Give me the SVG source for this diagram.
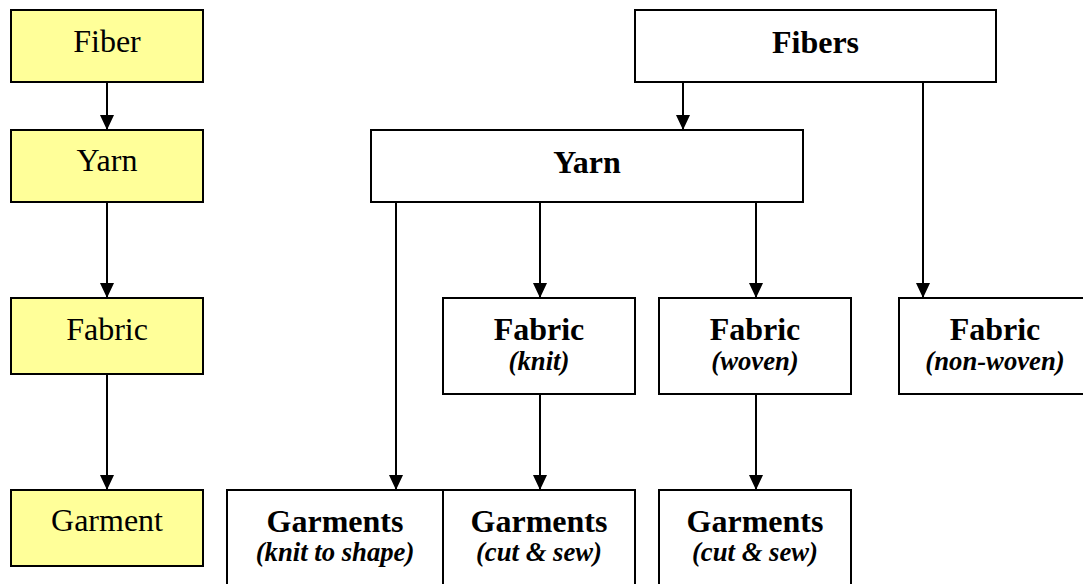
<svg xmlns="http://www.w3.org/2000/svg" width="1083" height="584" viewBox="0 0 1083 584">
<style>
  .box { fill: #ffffff; stroke: #000000; stroke-width: 2; }
  .yel { fill: #ffff99; stroke: #000000; stroke-width: 2; }
  .conn { stroke: #000000; stroke-width: 2; fill: none; }
</style>
<defs>
  <marker id="arrow" markerUnits="userSpaceOnUse" markerWidth="14" markerHeight="15" viewBox="0 0 14 15" refX="7" refY="15" orient="0">
    <path d="M0,0 L14,0 L7,15 z" fill="#000"/>
  </marker>
</defs>
<rect width="1083" height="584" fill="#ffffff"/>

<g id="connectors">
  <line class="conn" x1="107" y1="82" x2="107" y2="130" marker-end="url(#arrow)"/>
  <line class="conn" x1="107" y1="202" x2="107" y2="298" marker-end="url(#arrow)"/>
  <line class="conn" x1="107" y1="370" x2="107" y2="490" marker-end="url(#arrow)"/>
  <line class="conn" x1="683" y1="82" x2="683" y2="130" marker-end="url(#arrow)"/>
  <line class="conn" x1="923" y1="82" x2="923" y2="298" marker-end="url(#arrow)"/>
  <line class="conn" x1="396" y1="202" x2="396" y2="490" marker-end="url(#arrow)"/>
  <line class="conn" x1="540" y1="202" x2="540" y2="298" marker-end="url(#arrow)"/>
  <line class="conn" x1="756" y1="202" x2="756" y2="298" marker-end="url(#arrow)"/>
  <line class="conn" x1="540" y1="394" x2="540" y2="490" marker-end="url(#arrow)"/>
  <line class="conn" x1="756" y1="394" x2="756" y2="490" marker-end="url(#arrow)"/>
</g>

<g font-family="Liberation Serif" text-anchor="middle" fill="#000000">
<g id="left-fiber">
  <rect class="yel" x="11" y="10" width="192" height="72"/>
  <text x="107" y="52" font-size="32">Fiber</text>
</g>
<g id="left-yarn">
  <rect class="yel" x="11" y="130" width="192" height="72"/>
  <text x="107" y="171" font-size="32">Yarn</text>
</g>
<g id="left-fabric">
  <rect class="yel" x="11" y="298" width="192" height="76"/>
  <text x="107" y="340" font-size="32">Fabric</text>
</g>
<g id="left-garment">
  <rect class="yel" x="11" y="490" width="192" height="76"/>
  <text x="107" y="531" font-size="32">Garment</text>
</g>

<g id="fibers">
  <rect class="box" x="635" y="10" width="361" height="72"/>
  <text x="815.5" y="53" font-size="32" font-weight="bold">Fibers</text>
</g>
<g id="yarn">
  <rect class="box" x="371" y="130" width="432" height="72"/>
  <text x="587" y="173" font-size="32" font-weight="bold">Yarn</text>
</g>
<g id="fabric-knit">
  <rect class="box" x="443" y="298" width="192" height="96"/>
  <text x="539" y="339.5" font-size="32" font-weight="bold">Fabric</text>
  <text x="539" y="370" font-size="26.7" font-weight="bold" font-style="italic">(knit)</text>
</g>
<g id="fabric-woven">
  <rect class="box" x="659" y="298" width="192" height="96"/>
  <text x="755" y="339.5" font-size="32" font-weight="bold">Fabric</text>
  <text x="755" y="370" font-size="26.7" font-weight="bold" font-style="italic">(woven)</text>
</g>
<g id="fabric-nonwoven">
  <rect class="box" x="899" y="298" width="192" height="96"/>
  <text x="995" y="339.5" font-size="32" font-weight="bold">Fabric</text>
  <text x="995" y="370" font-size="26.7" font-weight="bold" font-style="italic">(non-woven)</text>
</g>
<g id="garments-knit-to-shape">
  <rect class="box" x="227" y="490" width="216" height="100"/>
  <text x="335" y="531.5" font-size="32" font-weight="bold">Garments</text>
  <text x="335" y="561" font-size="26.7" font-weight="bold" font-style="italic">(knit to shape)</text>
</g>
<g id="garments-cut-sew-knit">
  <rect class="box" x="443" y="490" width="192" height="100"/>
  <text x="539" y="531.5" font-size="32" font-weight="bold">Garments</text>
  <text x="539" y="561" font-size="26.7" font-weight="bold" font-style="italic">(cut &amp; sew)</text>
</g>
<g id="garments-cut-sew-woven">
  <rect class="box" x="659" y="490" width="192" height="100"/>
  <text x="755" y="531.5" font-size="32" font-weight="bold">Garments</text>
  <text x="755" y="561" font-size="26.7" font-weight="bold" font-style="italic">(cut &amp; sew)</text>
</g>
</g>
</svg>
